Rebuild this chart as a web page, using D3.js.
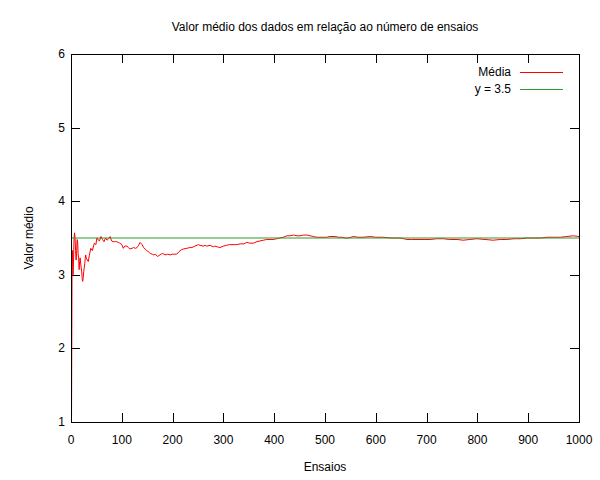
<!DOCTYPE html>
<html>
<head>
<meta charset="utf-8">
<script src="https://cdn.jsdelivr.net/npm/d3@7"></script>
<style>
  body { margin: 0; background: #fff; }
  text { font-family: "Liberation Sans", Arial, sans-serif; font-size: 12px; fill: #000; }
</style>
</head>
<body>
<div id="chart"></div>
<script>

var width = 600;
var height = 480;

var margin = { top: 54, right: 21, bottom: 58, left: 71 };

// running mean (trial number, mean value)
var trials = [1, 2, 3, 4, 5, 6, 7, 8, 9, 10, 11, 12, 13, 14, 15, 16, 17, 18, 19, 20,
  21, 22, 23, 24, 25, 26, 27, 28, 29, 30, 32, 34, 36, 39, 42, 46, 49, 51, 54, 56,
  59, 62, 65, 68, 71, 74, 77, 80, 83, 86, 90, 93, 96, 100, 103, 106, 110, 113, 116, 120,
  123, 127, 130, 133, 136, 140, 143, 146, 149, 153, 156, 160, 163, 166, 170, 173, 177, 180, 183, 187,
  190, 195, 200, 203, 208, 212, 217, 221, 228, 234, 238, 244, 251, 254, 260, 264, 267, 274, 280, 283,
  288, 293, 300, 306, 312, 319, 326, 333, 340, 346, 352, 359, 366, 372, 379, 385, 392, 398, 405, 411,
  418, 425, 431, 438, 445, 451, 458, 464, 471, 477, 484, 490, 497, 503, 510, 520, 527, 533, 540, 546,
  556, 565, 575, 589, 600, 615, 630, 648, 655, 661, 670, 687, 697, 707, 720, 733, 745, 760, 772, 785,
  799, 815, 831, 845, 858, 872, 885, 898, 910, 925, 937, 950, 963, 976, 989, 1000];

var means = [1.00, 3.00, 3.33, 3.00, 3.20, 3.50, 3.57, 3.50, 3.33, 3.20, 3.27, 3.48, 3.46, 3.29, 3.23, 3.07, 3.18, 3.23, 3.16, 3.10,
  3.05, 2.95, 2.91, 2.96, 3.04, 3.09, 3.15, 3.22, 3.27, 3.23, 3.20, 3.18, 3.26, 3.36, 3.33, 3.43, 3.41, 3.50, 3.47, 3.46,
  3.52, 3.48, 3.45, 3.50, 3.47, 3.49, 3.52, 3.46, 3.45, 3.45, 3.45, 3.44, 3.43, 3.41, 3.36, 3.39, 3.39, 3.37, 3.35, 3.36,
  3.37, 3.36, 3.37, 3.40, 3.44, 3.41, 3.37, 3.35, 3.33, 3.31, 3.29, 3.28, 3.27, 3.28, 3.25, 3.26, 3.28, 3.29, 3.28, 3.27,
  3.28, 3.27, 3.28, 3.28, 3.28, 3.31, 3.34, 3.35, 3.36, 3.37, 3.37, 3.39, 3.41, 3.40, 3.39, 3.40, 3.39, 3.40, 3.38, 3.39,
  3.38, 3.37, 3.39, 3.40, 3.41, 3.41, 3.41, 3.42, 3.42, 3.44, 3.43, 3.43, 3.45, 3.46, 3.47, 3.48, 3.48, 3.48, 3.49, 3.50,
  3.51, 3.53, 3.53, 3.54, 3.53, 3.53, 3.54, 3.54, 3.53, 3.52, 3.51, 3.51, 3.51, 3.51, 3.52, 3.52, 3.51, 3.51, 3.50, 3.50,
  3.52, 3.51, 3.51, 3.52, 3.51, 3.51, 3.50, 3.50, 3.49, 3.48, 3.48, 3.48, 3.48, 3.48, 3.49, 3.49, 3.48, 3.48, 3.47, 3.48,
  3.49, 3.48, 3.47, 3.48, 3.48, 3.49, 3.49, 3.50, 3.50, 3.50, 3.51, 3.51, 3.51, 3.52, 3.53, 3.52];

var xTicks = [0, 100, 200, 300, 400, 500, 600, 700, 800, 900, 1000];
var yTicks = [1, 2, 3, 4, 5, 6];
var reference = 3.5;

var seriesNames = ["Média", "y = 3.5"];
var seriesColors = ["#ff0000", "#2e9a2e"];

var title = "Valor médio dos dados em relação ao número de ensaios";
var xLabel = "Ensaios";
var yLabel = "Valor médio";

var svg = d3.select("#chart").append("svg")
  .attr("width", width)
  .attr("height", height);

var x = d3.scaleLinear()
  .domain([0, 1000])
  .range([margin.left, width - margin.right]);

var y = d3.scaleLinear()
  .domain([1, 6])
  .range([height - margin.bottom, margin.top]);

var tickLen = 9;

// ticks on all four sides, pointing inward (gnuplot mirror style)
var ticks = svg.append("g").attr("stroke", "#000").attr("stroke-width", 1);

xTicks.forEach(function (t) {
  var px = Math.round(x(t)) + 0.5;
  ticks.append("line").attr("x1", px).attr("x2", px)
    .attr("y1", y(1)).attr("y2", y(1) - tickLen);
  ticks.append("line").attr("x1", px).attr("x2", px)
    .attr("y1", y(6)).attr("y2", y(6) + tickLen);
});

yTicks.forEach(function (t) {
  var py = Math.round(y(t)) + 0.5;
  ticks.append("line").attr("x1", x(0)).attr("x2", x(0) + tickLen)
    .attr("y1", py).attr("y2", py);
  ticks.append("line").attr("x1", x(1000)).attr("x2", x(1000) - tickLen)
    .attr("y1", py).attr("y2", py);
});

// tick labels
svg.selectAll(".xlab").data(xTicks).enter().append("text")
  .attr("class", "xlab")
  .attr("x", function (d) { return x(d); })
  .attr("y", y(1) + 22)
  .attr("text-anchor", "middle")
  .text(function (d) { return d; });

svg.selectAll(".ylab").data(yTicks).enter().append("text")
  .attr("class", "ylab")
  .attr("x", x(0) - 6)
  .attr("y", function (d) { return y(d) + 4; })
  .attr("text-anchor", "end")
  .text(function (d) { return d; });

// running mean
var line = d3.line()
  .x(function (d, i) { return x(trials[i]); })
  .y(function (d) { return y(d); });

svg.append("path")
  .datum(means)
  .attr("fill", "none")
  .attr("stroke", seriesColors[0])
  .attr("stroke-width", 1)
  .attr("d", line);

// reference line, plotted second so it sits on top
svg.append("line")
  .attr("x1", x(0)).attr("x2", x(1000))
  .attr("y1", y(reference)).attr("y2", y(reference))
  .attr("stroke", seriesColors[1])
  .attr("stroke-width", 1.2);

// frame
svg.append("rect")
  .attr("x", x(0) + 0.5).attr("y", y(6) + 0.5)
  .attr("width", x(1000) - x(0)).attr("height", y(1) - y(6))
  .attr("fill", "none")
  .attr("stroke", "#000")
  .attr("stroke-width", 1);

// legend
var legend = svg.append("g");
seriesNames.forEach(function (name, i) {
  var ly = 72 + i * 17;
  legend.append("text")
    .attr("x", 511)
    .attr("y", ly + 4)
    .attr("text-anchor", "end")
    .text(name);
  legend.append("line")
    .attr("x1", 520).attr("x2", 563)
    .attr("y1", ly + 0.5).attr("y2", ly + 0.5)
    .attr("stroke", seriesColors[i])
    .attr("stroke-width", 1.2);
});

// titles
svg.append("text")
  .attr("x", (x(0) + x(1000)) / 2)
  .attr("y", 31)
  .attr("text-anchor", "middle")
  .text(title);

svg.append("text")
  .attr("x", (x(0) + x(1000)) / 2)
  .attr("y", 471)
  .attr("text-anchor", "middle")
  .text(xLabel);

svg.append("text")
  .attr("transform", "translate(33," + y(3.5) + ") rotate(-90)")
  .attr("text-anchor", "middle")
  .text(yLabel);

</script>
</body>
</html>
